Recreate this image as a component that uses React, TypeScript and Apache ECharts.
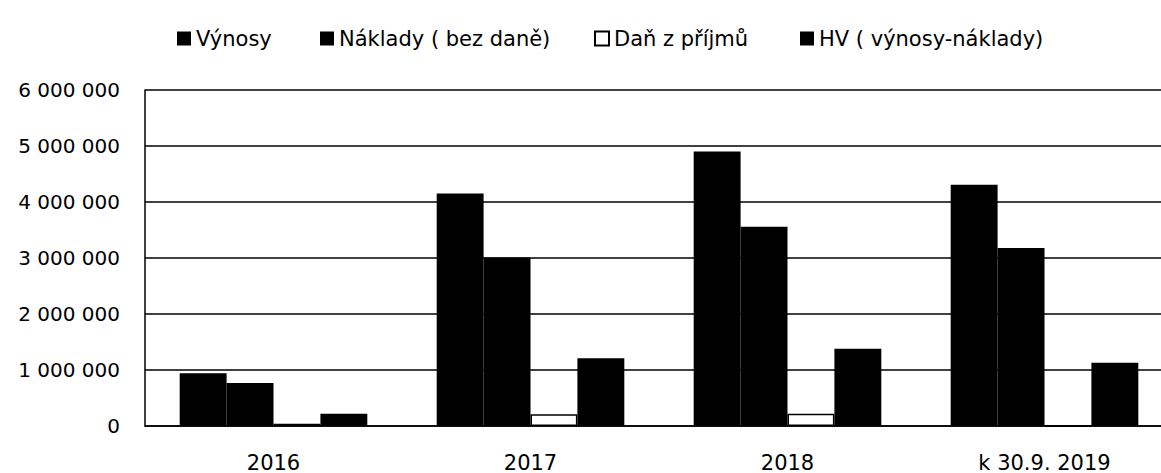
import React, { useEffect, useRef } from "react";
import * as echarts from "echarts";

const categories = ["2016", "2017", "2018", "k 30.9. 2019"];
const seriesNames = ["Výnosy", "Náklady ( bez daně)", "Daň z příjmů", "HV ( výnosy-náklady)"];
const vynosy = [940000, 4150000, 4900000, 4310000];
const naklady = [770000, 3010000, 3560000, 3180000];
const dan = [40000, 210000, 220000, 0];
const hv = [220000, 1210000, 1380000, 1130000];
const yTicks = { min: 0, max: 6000000, interval: 1000000 };

const FONT = "DejaVu Sans";
const legendLefts = [172, 315, 589, 795];

function fmt(v: number): string {
  return String(v).replace(/\B(?=(\d{3})+(?!\d))/g, " ");
}

export default function App() {
  const ref = useRef<HTMLDivElement>(null);
  useEffect(() => {
    if (!ref.current) return;
    const chart = echarts.init(ref.current, null, { renderer: "svg" });
    const blackBar = { color: "#000000" };
    const common = { type: "bar", barGap: "0%", barCategoryGap: "27%" };
    chart.setOption({
      animation: false,
      backgroundColor: "#ffffff",
      textStyle: { fontFamily: FONT, color: "#000" },
      legend: seriesNames.map((n, i) => ({
        top: 23,
        left: legendLefts[i],
        itemWidth: 14,
        itemHeight: 14,
        icon: "rect",
        textStyle: { fontFamily: FONT, fontSize: 21, color: "#000" },
        data: [n],
      })),
      grid: { left: 145, right: 0, top: 90, bottom: 46, containLabel: false },
      xAxis: {
        type: "category",
        data: categories,
        axisLine: { lineStyle: { color: "#000", width: 1.5 } },
        axisTick: { show: false },
        axisLabel: { fontFamily: FONT, fontSize: 21, color: "#000", margin: 26 },
      },
      yAxis: {
        type: "value",
        min: yTicks.min,
        max: yTicks.max,
        interval: yTicks.interval,
        axisLine: { show: true, lineStyle: { color: "#000", width: 1.5 } },
        axisTick: { show: false },
        splitLine: { lineStyle: { color: "#000", width: 1.5 } },
        axisLabel: {
          fontFamily: FONT,
          fontSize: 20,
          color: "#000",
          margin: 25,
          formatter: (v: number) => fmt(v),
        },
      },
      series: [
        { ...common, name: seriesNames[0], data: vynosy, itemStyle: blackBar },
        { ...common, name: seriesNames[1], data: naklady, itemStyle: blackBar },
        {
          ...common,
          name: seriesNames[2],
          data: dan,
          itemStyle: { color: "#ffffff", borderColor: "#000", borderWidth: 1.5 },
        },
        { ...common, name: seriesNames[3], data: hv, itemStyle: blackBar },
      ],
    });
    return () => chart.dispose();
  }, []);
  return (
    <div
      style={{
        position: "absolute",
        left: 0,
        top: 0,
        width: 1161,
        height: 473,
        overflow: "hidden",
        background: "#fff",
      }}
    >
      <div ref={ref} style={{ width: 1173, height: 473 }} />
    </div>
  );
}
